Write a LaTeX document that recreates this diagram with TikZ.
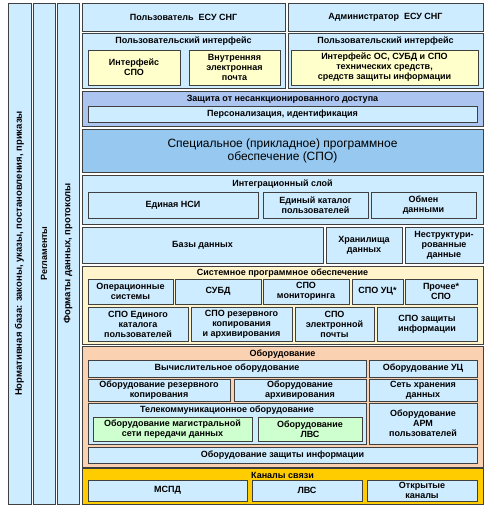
\documentclass[tikz,border=0pt]{standalone}
\usepackage{fontspec}
\setmainfont{Liberation Sans}
\definecolor{lb}{RGB}{206,236,255}
\definecolor{lav}{RGB}{172,196,240}
\definecolor{spob}{RGB}{150,200,240}
\definecolor{yel}{RGB}{255,255,204}
\definecolor{syy}{RGB}{255,244,204}
\definecolor{peach}{RGB}{250,210,178}
\definecolor{gold}{RGB}{255,204,0}
\definecolor{grn}{RGB}{206,255,206}
\newcommand\mybox[7]{\node[box,#6,minimum width={(#4-#2)*1pt},minimum height={(#5-#3)*1pt}] (#1) at ({(#2+#4)/2},{(#3+#5)/2}) {#7};}
\begin{document}
\begin{tikzpicture}[x=1pt,y=-1pt,
  every node/.style={inner sep=0pt,outer sep=0pt,align=center,font=\fontsize{9}{10}\selectfont\bfseries},
  box/.style={draw=black!75,line width=0.9pt,rectangle,fill=lb},
  ttl/.style={anchor=center}]
\useasboundingbox[fill=white] (0,0) rectangle (488,509);
% left columns
\node[box,rotate=90,minimum width=501pt,minimum height=23pt,font=\fontsize{9.5}{10}\selectfont\bfseries] (norm) at (19.5,253.5) {Нормативная база: законы, указы, постановления, приказы};
\node[box,rotate=90,minimum width=501pt,minimum height=22pt] (regl) at (44,253.5) {Регламенты};
\node[box,rotate=90,minimum width=501pt,minimum height=22pt,font=\fontsize{9.5}{10}\selectfont\bfseries] (form) at (68,253.5) {Форматы данных, протоколы};
% users
\mybox{user1}{82}{3}{285}{31}{}{Пользователь\ \ ЕСУ СНГ}
\mybox{user2}{288}{3}{483}{31}{}{Администратор\ \ ЕСУ СНГ}
% interfaces
\mybox{ui1}{82}{33}{285}{88}{}{}
\node[ttl] (ui1t) at (183.5,41) {Пользовательский интерфейс};
\mybox{ui2}{288}{33}{483}{88}{}{}
\node[ttl] (ui2t) at (385.5,41) {Пользовательский интерфейс};
\mybox{ispo}{88}{50}{180}{85}{fill=yel}{Интерфейс\\СПО}
\mybox{mail}{189}{50}{280}{85}{fill=yel}{Внутренняя\\электронная\\почта}
\mybox{ios}{291}{50}{478}{85}{fill=yel}{Интерфейс ОС, СУБД и СПО\\технических средств,\\средств защиты информации}
% protection
\mybox{prot}{82}{91}{483}{126}{fill=lav}{}
\node[ttl] (prott) at (282.5,99) {Защита от несанкционированного доступа};
\mybox{pers}{88}{106}{477}{122}{}{Персонализация, идентификация}
% SPO
\mybox{spo}{82}{129}{483}{172}{fill=spob,font=\fontsize{12}{13}\selectfont}{Специальное (прикладное) программное\\обеспечение (СПО)}
% integration
\mybox{integ}{82}{175}{483}{224}{}{}
\node[ttl] (integt) at (282.5,184) {Интеграционный слой};
\mybox{nsi}{88}{192}{258}{218}{}{Единая НСИ}
\mybox{cat}{263}{192}{368}{218}{}{Единый каталог\\пользователей}
\mybox{obm}{371}{192}{476}{218}{}{Обмен\\данными}
% data
\mybox{db}{82}{227}{323}{263}{}{Базы данных}
\mybox{dw}{326}{227}{402}{263}{}{Хранилища\\данных}
\mybox{uns}{405}{227}{483}{263}{}{Неструктури-\\рованные\\данные}
% system software
\mybox{sys}{82}{266}{483}{344}{fill=syy}{}
\node[ttl] (syst) at (282.5,273) {Системное программное обеспечение};
\mybox{os}{88}{279}{173}{304}{}{Операционные\\системы}
\mybox{dbms}{175}{279}{261}{304}{}{СУБД}
\mybox{mon}{263}{279}{349}{304}{}{СПО\\мониторинга}
\mybox{uc}{352}{279}{403}{304}{}{СПО УЦ*}
\mybox{oth}{405}{279}{477}{304}{}{Прочее*\\СПО}
\mybox{scat}{88}{307}{188}{341}{}{СПО Единого\\каталога\\пользователей}
\mybox{bak}{191}{307}{292}{341}{}{СПО резервного\\копирования\\и архивирования}
\mybox{smail}{295}{307}{374}{341}{}{СПО\\электронной\\почты}
\mybox{ssec}{377}{307}{477}{341}{}{СПО защиты\\информации}
% equipment
\mybox{eq}{82}{346}{483}{467}{fill=peach}{}
\node[ttl] (eqt) at (282.5,354) {Оборудование};
\mybox{comp}{88}{360}{366}{377}{}{Вычислительное оборудование}
\mybox{equc}{369}{360}{477}{377}{}{Оборудование УЦ}
\mybox{ebak}{88}{379}{230}{401}{}{Оборудование резервного\\копирования}
\mybox{earc}{234}{379}{366}{401}{}{Оборудование\\архивирования}
\mybox{san}{369}{379}{477}{401}{}{Сеть хранения\\данных}
\mybox{tel}{88}{403}{366}{444}{}{}
\node[ttl] (telt) at (227,410) {Телекоммуникационное оборудование};
\mybox{mag}{93}{417}{252}{441}{fill=grn}{Оборудование магистральной\\сети передачи данных}
\mybox{lan}{258}{417}{362}{441}{fill=grn}{Оборудование\\ЛВС}
\mybox{arm}{369}{403}{477}{444}{}{Оборудование\\АРМ\\пользователей}
\mybox{esec}{88}{447}{477}{463}{}{Оборудование защиты информации}
% channels
\mybox{chan}{82}{468}{483}{504}{fill=gold}{}
\node[ttl] (chant) at (282.5,475) {Каналы связи};
\mybox{mspd}{88}{480}{247}{501}{}{МСПД}
\mybox{clan}{252}{480}{362}{501}{}{ЛВС}
\mybox{open}{367}{480}{477}{501}{}{Открытые\\каналы}
\end{tikzpicture}
\end{document}
